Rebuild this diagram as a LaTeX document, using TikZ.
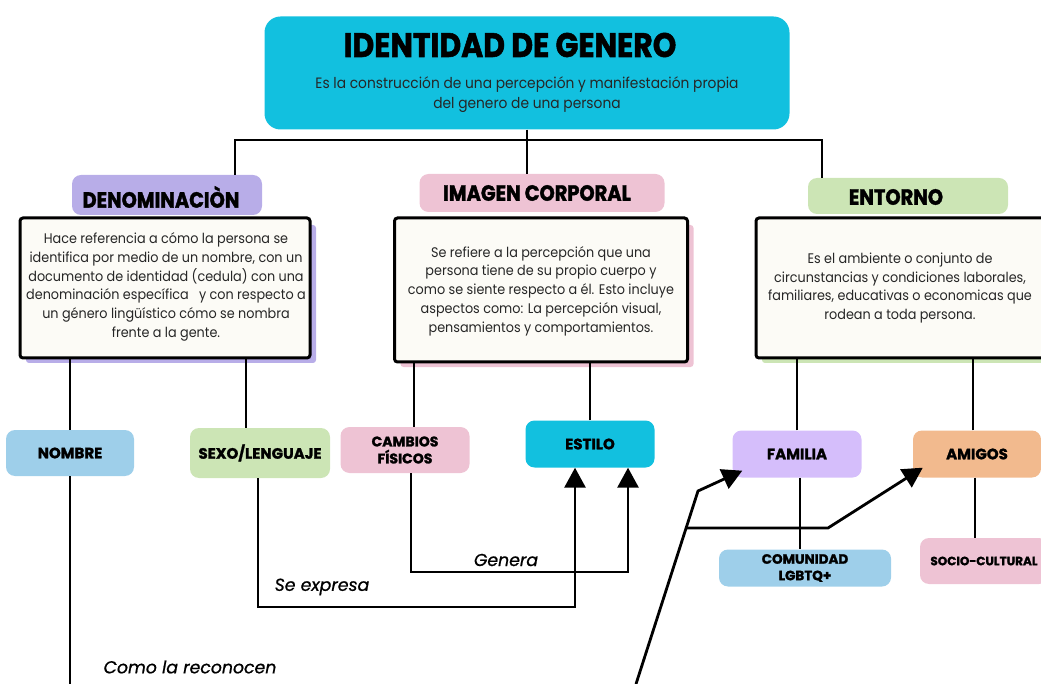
\documentclass[tikz,border=0pt]{standalone}
\usepackage{fontspec}
\setmainfont{Poppins}
\newfontfamily\hvy[FakeStretch=0.88, BoldFeatures={FakeBold=1.6}]{Poppins}
\newfontfamily\smf[BoldFeatures={FakeBold=1.5}]{Poppins}
\newfontfamily\bodyf[FakeStretch=0.92]{Poppins}
\newfontfamily\edgef[ItalicFeatures={FakeBold=0.8}]{Poppins}
\usetikzlibrary{arrows.meta}
\definecolor{cyanb}{HTML}{12C0DF}
\definecolor{lavl}{HTML}{B8ADE8}
\definecolor{pinkl}{HTML}{EEC3D4}
\definecolor{greenl}{HTML}{CCE5B5}
\definecolor{creamb}{HTML}{FCFBF6}
\definecolor{bluel}{HTML}{9ECFEA}
\definecolor{famp}{HTML}{D5BEFB}
\definecolor{orangea}{HTML}{F2BA8E}
\tikzset{
  blob/.style={fill=#1, draw=none, rounded corners=9pt, inner sep=0pt},
  infobox/.style={fill=creamb, draw=black, line width=3pt, rounded corners=3pt, inner sep=0pt},
  headtxt/.style={font=\hvy\bfseries\fontsize{22}{24}\selectfont, align=center},
  smalltxt/.style={font=\smf\bfseries\fontsize{15}{17}\selectfont, align=center},
  desctxt/.style={font=\bodyf\fontsize{13.9}{18.7}\selectfont, align=center, text=black!85},
  edgetxt/.style={font=\edgef\itshape\fontsize{17.3}{20}\selectfont},
  wire/.style={line width=2.8pt, black},
  arr/.style={wire, -{Triangle[length=20pt,width=21pt]}}
}
\begin{document}
\begin{tikzpicture}[x=1pt,y=-1pt]
\useasboundingbox (0,0) rectangle (1041,684);
% ---- top
\node[blob=cyanb, rounded corners=16pt, minimum width=525, minimum height=113] (top) at (527,73) {};
\node[font=\hvy\bfseries\fontsize{34}{36}\selectfont] (title) at (510,45) {IDENTIDAD DE GENERO};
\node[desctxt, font=\bodyf\fontsize{15}{20}\selectfont] (sub) at (527,95) {Es la construcción de una percepción y manifestación propia\\del genero de una persona};
\coordinate (bus) at (527,140);
% ---- level 1 shadows + boxes
\node[blob=lavl, rounded corners=3pt, minimum width=290, minimum height=138] (densh) at (171,294) {};
\node[infobox, minimum width=290, minimum height=140] (denbox) at (165,288) {};
\node[blob=lavl, minimum width=190, minimum height=40] (denlab) at (167,195) {};
\node[headtxt] (dent) at (161,197) {DENOMINACIÒN};
\node[desctxt] (dend) at (166,287) {Hace referencia a cómo la persona se\\identifica por medio de un nombre, con un\\documento de identidad (cedula) con una\\denominación específica \ \ y con respecto a\\un género lingüístico cómo se nombra\\frente a la gente.};

\node[blob=pinkl, rounded corners=3pt, minimum width=293, minimum height=142] (imgsh) at (547,296) {};
\node[infobox, minimum width=293, minimum height=144] (imgbox) at (541,290) {};
\node[blob=pinkl, minimum width=245, minimum height=38] (imglab) at (542,193) {};
\node[headtxt] (imgt) at (537,193) {IMAGEN CORPORAL};
\node[desctxt] (imgd) at (541,291) {Se refiere a la percepción que una\\persona tiene de su propio cuerpo y\\como se siente respecto a él. Esto incluye\\aspectos como: La percepción visual,\\pensamientos y comportamientos.};

\node[blob=greenl, rounded corners=3pt, minimum width=290, minimum height=138] (envsh) at (907,294) {};
\node[infobox, minimum width=290, minimum height=140] (envbox) at (901,288) {};
\node[blob=greenl, minimum width=200, minimum height=36] (envlab) at (908,196) {};
\node[headtxt] (envt) at (896,197) {ENTORNO};
\node[desctxt] (envd) at (900,288) {Es el ambiente o conjunto de\\circunstancias y condiciones laborales,\\familiares, educativas o economicas que\\rodean a toda persona.};

% ---- level 2
\node[blob=bluel, minimum width=128, minimum height=46, smalltxt] (nombre) at (70,453) {NOMBRE};
\node[blob=greenl, minimum width=140, minimum height=50, smalltxt] (sexo) at (260,453) {SEXO/LENGUAJE};
\node[blob=pinkl, minimum width=129, minimum height=46, smalltxt, font=\smf\bfseries\fontsize{14}{17}\selectfont] (cambios) at (405,450) {CAMBIOS\\FÍSICOS};
\node[blob=cyanb, minimum width=129, minimum height=47, smalltxt] (estilo) at (590,444) {ESTILO};
\node[blob=famp, minimum width=129, minimum height=47, smalltxt] (familia) at (797,454) {FAMILIA};
\node[blob=orangea, minimum width=128, minimum height=47, smalltxt] (amigos) at (977,454) {AMIGOS};
\node[blob=bluel, minimum width=172, minimum height=37, smalltxt, font=\smf\bfseries\fontsize{13.5}{16.5}\selectfont] (comunidad) at (805,568) {COMUNIDAD\\LGBTQ+};
\node[blob=pinkl, minimum width=128, minimum height=46, smalltxt, font=\smf\bfseries\fontsize{12}{13}\selectfont] (socio) at (984,561) {SOCIO-CULTURAL};

% ---- edge labels
\node[edgetxt] (lexp) at (322,587) {Se expresa};
\node[edgetxt] (lgen) at (506,560) {Genera};
\node[edgetxt] (lcom) at (190,667) {Como la reconocen};

% ---- connectors
\draw[wire] (top.south) -- (bus);
\draw[wire] ([xshift=68pt]denlab.north) |- (bus) -| ([xshift=-86pt]envlab.north);
\draw[wire] (bus) -- ([xshift=-15pt]imglab.north);

\draw[wire] (nombre.north) -- (nombre.north |- denbox.south);
\draw[wire] ([xshift=-14pt]sexo.north) -- ([xshift=-14pt]sexo.north |- denbox.south);
\draw[wire] ([xshift=9pt]cambios.north) -- ([xshift=9pt]cambios.north |- imgbox.south);
\draw[wire] (estilo.north) -- (estilo.north |- imgbox.south);
\draw[wire] (familia.north) -- (familia.north |- envbox.south);
\draw[wire] ([xshift=-4pt]amigos.north) -- ([xshift=-4pt]amigos.north |- envbox.south);
\draw[wire] ([xshift=3pt]familia.south) -- ([xshift=3pt]familia.south |- comunidad.north);
\draw[wire] ([xshift=-2pt]amigos.south) -- ([xshift=-2pt]amigos.south |- socio.north);

\coordinate (nbend) at (70,684);
\draw[wire] (nombre.south) -- (nbend);

\coordinate (se1) at (258,607);
\coordinate (se2) at (575,607);
\draw[arr] ([xshift=-2pt]sexo.south) -- (se1) -- (se2) -- ([xshift=-15pt]estilo.south);
\coordinate (ge1) at (411,572);
\coordinate (ge2) at (628,572);
\draw[arr] ([xshift=6pt]cambios.south) -- (ge1) -- (ge2) -- ([xshift=38pt]estilo.south);

\coordinate (fa0) at (636,684);
\coordinate (fa1) at (698,491);
\draw[arr] (fa0) -- (fa1) -- ([shift={(10,-7)}]familia.south west);
\coordinate (am0) at (687,528);
\coordinate (am1) at (828,528);
\draw[arr] (am0) -- (am1) -- ([shift={(10,-10)}]amigos.south west);
\end{tikzpicture}
\end{document}
